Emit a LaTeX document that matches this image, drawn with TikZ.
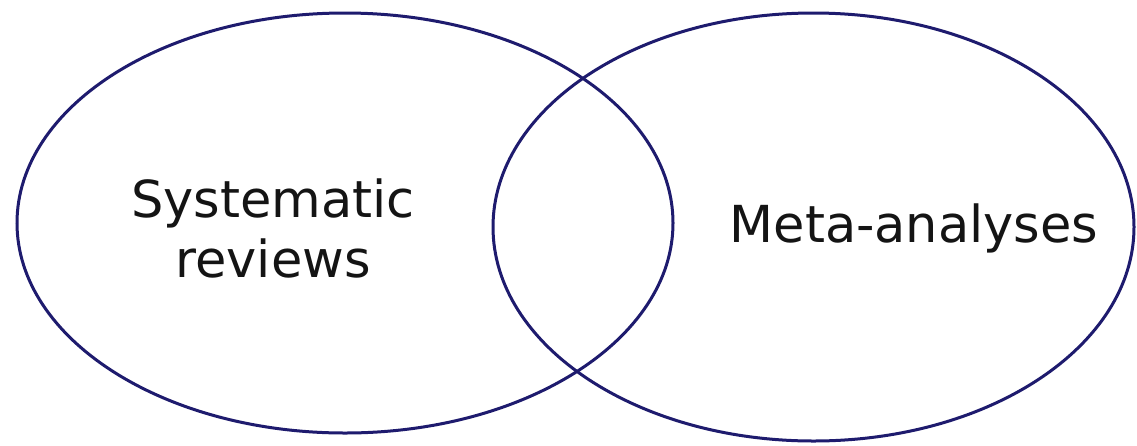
\documentclass[tikz,border=0pt]{standalone}
\usepackage{fontspec}
\setmainfont{DejaVu Sans}
\usetikzlibrary{shapes.geometric}
\definecolor{ringblue}{HTML}{1E1B6E}
\definecolor{inkblack}{HTML}{141414}
\tikzset{
  ring/.style={draw=ringblue, line width=3pt, ellipse, inner sep=0pt, outer sep=0pt},
  label/.style={text=inkblack, font=\fontsize{51pt}{60pt}\selectfont, inner sep=0pt, align=center}
}
\begin{document}
\begin{tikzpicture}[x=1pt, y=-1pt]
\useasboundingbox (0,0) rectangle (1137,445);
\fill[white] (0,0) rectangle (1137,445);
\node[ring, minimum width=656pt, minimum height=420pt] (sr) at (345,223) {};
\node[ring, minimum width=641pt, minimum height=428pt] (ma) at (813.5,227) {};
\node[label] (srtext) at (273,228.5) {Systematic\\reviews};
\node[label, anchor=base] (matext) at (914,242) {Meta-analyses};
\end{tikzpicture}
\end{document}
